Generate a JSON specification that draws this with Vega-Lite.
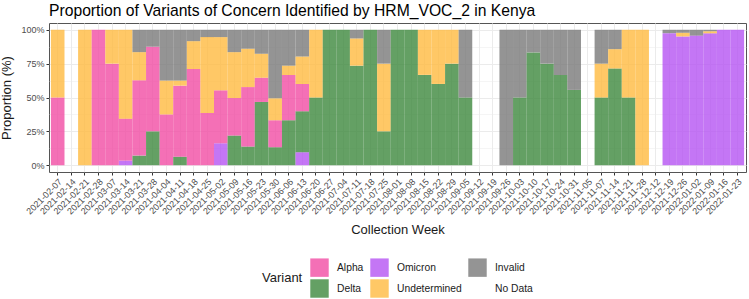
{
  "$schema": "https://vega.github.io/schema/vega-lite/v6.json",
  "width": 697,
  "height": 149,
  "autosize": {"type": "none"},
  "padding": {"left": 49, "top": 23, "right": 3, "bottom": 127},
  "background": "white",
  "config": {
    "font": "Liberation Sans",
    "view": {"stroke": "#555555", "strokeWidth": 1},
    "axis": {
      "labelFont": "Liberation Sans",
      "titleFont": "Liberation Sans",
      "labelColor": "#4D4D4D",
      "labelFontSize": 9,
      "titleFontSize": 13,
      "titleFontWeight": "normal",
      "titleColor": "#1a1a1a",
      "domain": false,
      "tickColor": "#333333",
      "tickSize": 3,
      "gridColor": "#EBEBEB"
    },
    "legend": {
      "labelFont": "Liberation Sans",
      "titleFont": "Liberation Sans",
      "labelFontSize": 10.3,
      "titleFontSize": 13,
      "titleFontWeight": "normal",
      "labelColor": "#1a1a1a",
      "titleColor": "#1a1a1a"
    }
  },
  "title": {
    "text": "Proportion of Variants of Concern Identified by HRM_VOC_2 in Kenya",
    "anchor": "start",
    "frame": "group",
    "fontSize": 15.7,
    "fontWeight": "normal",
    "color": "#000000",
    "font": "Liberation Sans",
    "offset": 3
  },
  "data": {
    "values": [
      {"week": "2021-02-07", "variant": "Alpha", "prop": 0.5},
      {"week": "2021-02-07", "variant": "Undetermined", "prop": 0.5},
      {"week": "2021-02-14", "variant": "No Data", "prop": 1},
      {"week": "2021-02-21", "variant": "Undetermined", "prop": 1},
      {"week": "2021-02-28", "variant": "Alpha", "prop": 1},
      {"week": "2021-03-07", "variant": "Alpha", "prop": 0.75},
      {"week": "2021-03-07", "variant": "Undetermined", "prop": 0.25},
      {"week": "2021-03-14", "variant": "Omicron", "prop": 0.034},
      {"week": "2021-03-14", "variant": "Alpha", "prop": 0.31},
      {"week": "2021-03-14", "variant": "Undetermined", "prop": 0.656},
      {"week": "2021-03-21", "variant": "Delta", "prop": 0.071},
      {"week": "2021-03-21", "variant": "Alpha", "prop": 0.556},
      {"week": "2021-03-21", "variant": "Undetermined", "prop": 0.208},
      {"week": "2021-03-21", "variant": "Invalid", "prop": 0.165},
      {"week": "2021-03-28", "variant": "Delta", "prop": 0.25},
      {"week": "2021-03-28", "variant": "Alpha", "prop": 0.625},
      {"week": "2021-03-28", "variant": "Invalid", "prop": 0.125},
      {"week": "2021-04-04", "variant": "Alpha", "prop": 0.375},
      {"week": "2021-04-04", "variant": "Undetermined", "prop": 0.25},
      {"week": "2021-04-04", "variant": "Invalid", "prop": 0.375},
      {"week": "2021-04-11", "variant": "Delta", "prop": 0.0625},
      {"week": "2021-04-11", "variant": "Alpha", "prop": 0.525},
      {"week": "2021-04-11", "variant": "Undetermined", "prop": 0.0375},
      {"week": "2021-04-11", "variant": "Invalid", "prop": 0.375},
      {"week": "2021-04-18", "variant": "Alpha", "prop": 0.71},
      {"week": "2021-04-18", "variant": "Undetermined", "prop": 0.206},
      {"week": "2021-04-18", "variant": "Invalid", "prop": 0.084},
      {"week": "2021-04-25", "variant": "Alpha", "prop": 0.386},
      {"week": "2021-04-25", "variant": "Undetermined", "prop": 0.56},
      {"week": "2021-04-25", "variant": "Invalid", "prop": 0.054},
      {"week": "2021-05-02", "variant": "Omicron", "prop": 0.162},
      {"week": "2021-05-02", "variant": "Alpha", "prop": 0.391},
      {"week": "2021-05-02", "variant": "Undetermined", "prop": 0.393},
      {"week": "2021-05-02", "variant": "Invalid", "prop": 0.054},
      {"week": "2021-05-09", "variant": "Delta", "prop": 0.219},
      {"week": "2021-05-09", "variant": "Alpha", "prop": 0.277},
      {"week": "2021-05-09", "variant": "Undetermined", "prop": 0.339},
      {"week": "2021-05-09", "variant": "Invalid", "prop": 0.165},
      {"week": "2021-05-16", "variant": "Delta", "prop": 0.138},
      {"week": "2021-05-16", "variant": "Alpha", "prop": 0.439},
      {"week": "2021-05-16", "variant": "Undetermined", "prop": 0.283},
      {"week": "2021-05-16", "variant": "Invalid", "prop": 0.14},
      {"week": "2021-05-23", "variant": "Delta", "prop": 0.467},
      {"week": "2021-05-23", "variant": "Alpha", "prop": 0.179},
      {"week": "2021-05-23", "variant": "Undetermined", "prop": 0.177},
      {"week": "2021-05-23", "variant": "Invalid", "prop": 0.177},
      {"week": "2021-05-30", "variant": "Delta", "prop": 0.133},
      {"week": "2021-05-30", "variant": "Alpha", "prop": 0.199},
      {"week": "2021-05-30", "variant": "Undetermined", "prop": 0.162},
      {"week": "2021-05-30", "variant": "Invalid", "prop": 0.506},
      {"week": "2021-06-06", "variant": "Delta", "prop": 0.332},
      {"week": "2021-06-06", "variant": "Alpha", "prop": 0.334},
      {"week": "2021-06-06", "variant": "Undetermined", "prop": 0.069},
      {"week": "2021-06-06", "variant": "Invalid", "prop": 0.265},
      {"week": "2021-06-13", "variant": "Omicron", "prop": 0.096},
      {"week": "2021-06-13", "variant": "Delta", "prop": 0.302},
      {"week": "2021-06-13", "variant": "Alpha", "prop": 0.202},
      {"week": "2021-06-13", "variant": "Undetermined", "prop": 0.203},
      {"week": "2021-06-13", "variant": "Invalid", "prop": 0.197},
      {"week": "2021-06-20", "variant": "Delta", "prop": 0.5},
      {"week": "2021-06-20", "variant": "Undetermined", "prop": 0.5},
      {"week": "2021-06-27", "variant": "Delta", "prop": 1},
      {"week": "2021-07-04", "variant": "Delta", "prop": 1},
      {"week": "2021-07-11", "variant": "Delta", "prop": 0.735},
      {"week": "2021-07-11", "variant": "Undetermined", "prop": 0.201},
      {"week": "2021-07-11", "variant": "Invalid", "prop": 0.064},
      {"week": "2021-07-18", "variant": "Delta", "prop": 1},
      {"week": "2021-07-25", "variant": "Delta", "prop": 0.25},
      {"week": "2021-07-25", "variant": "Undetermined", "prop": 0.5},
      {"week": "2021-07-25", "variant": "Invalid", "prop": 0.25},
      {"week": "2021-08-01", "variant": "Delta", "prop": 1},
      {"week": "2021-08-08", "variant": "Delta", "prop": 1},
      {"week": "2021-08-15", "variant": "Delta", "prop": 0.667},
      {"week": "2021-08-15", "variant": "Undetermined", "prop": 0.333},
      {"week": "2021-08-22", "variant": "Delta", "prop": 0.6},
      {"week": "2021-08-22", "variant": "Undetermined", "prop": 0.4},
      {"week": "2021-08-29", "variant": "Delta", "prop": 0.75},
      {"week": "2021-08-29", "variant": "Undetermined", "prop": 0.25},
      {"week": "2021-09-05", "variant": "Delta", "prop": 0.5},
      {"week": "2021-09-05", "variant": "Invalid", "prop": 0.5},
      {"week": "2021-09-12", "variant": "No Data", "prop": 1},
      {"week": "2021-09-19", "variant": "No Data", "prop": 1},
      {"week": "2021-09-26", "variant": "Invalid", "prop": 1},
      {"week": "2021-10-03", "variant": "Delta", "prop": 0.5},
      {"week": "2021-10-03", "variant": "Invalid", "prop": 0.5},
      {"week": "2021-10-10", "variant": "Delta", "prop": 0.833},
      {"week": "2021-10-10", "variant": "Invalid", "prop": 0.167},
      {"week": "2021-10-17", "variant": "Delta", "prop": 0.75},
      {"week": "2021-10-17", "variant": "Invalid", "prop": 0.25},
      {"week": "2021-10-24", "variant": "Delta", "prop": 0.667},
      {"week": "2021-10-24", "variant": "Invalid", "prop": 0.333},
      {"week": "2021-10-31", "variant": "Delta", "prop": 0.556},
      {"week": "2021-10-31", "variant": "Invalid", "prop": 0.444},
      {"week": "2021-11-05", "variant": "No Data", "prop": 1},
      {"week": "2021-11-07", "variant": "Delta", "prop": 0.5},
      {"week": "2021-11-07", "variant": "Undetermined", "prop": 0.25},
      {"week": "2021-11-07", "variant": "Invalid", "prop": 0.25},
      {"week": "2021-11-14", "variant": "Delta", "prop": 0.714},
      {"week": "2021-11-14", "variant": "Undetermined", "prop": 0.143},
      {"week": "2021-11-14", "variant": "Invalid", "prop": 0.143},
      {"week": "2021-11-21", "variant": "Delta", "prop": 0.5},
      {"week": "2021-11-21", "variant": "Undetermined", "prop": 0.5},
      {"week": "2021-11-28", "variant": "Undetermined", "prop": 1},
      {"week": "2021-12-12", "variant": "No Data", "prop": 1},
      {"week": "2021-12-19", "variant": "Omicron", "prop": 0.975},
      {"week": "2021-12-19", "variant": "Invalid", "prop": 0.025},
      {"week": "2021-12-26", "variant": "Omicron", "prop": 0.951},
      {"week": "2021-12-26", "variant": "Undetermined", "prop": 0.027},
      {"week": "2021-12-26", "variant": "Invalid", "prop": 0.022},
      {"week": "2022-01-02", "variant": "Omicron", "prop": 0.957},
      {"week": "2022-01-02", "variant": "Invalid", "prop": 0.043},
      {"week": "2022-01-09", "variant": "Omicron", "prop": 0.974},
      {"week": "2022-01-09", "variant": "Undetermined", "prop": 0.015},
      {"week": "2022-01-09", "variant": "Invalid", "prop": 0.011},
      {"week": "2022-01-16", "variant": "Omicron", "prop": 1},
      {"week": "2022-01-23", "variant": "Omicron", "prop": 1}
    ]
  },
  "transform": [
    {"calculate": "indexof(['Omicron','Delta','Alpha','Undetermined','Invalid','No Data'], datum.variant)", "as": "stackOrder"}
  ],
  "mark": {"type": "bar", "opacity": 0.8},
  "encoding": {
    "x": {
      "field": "week",
      "type": "ordinal",
      "sort": "ascending",
      "scale": {"paddingInner": 0, "paddingOuter": 0.14},
      "axis": {
        "title": "Collection Week",
        "labelAngle": -45,
        "labelAlign": "right",
        "labelBaseline": "top",
        "labelPadding": 2,
        "bandPosition": 0.5,
        "grid": true,
        "gridWidth": 1,
        "titlePadding": 8,
        "labelOverlap": false
      }
    },
    "y": {
      "field": "prop",
      "type": "quantitative",
      "stack": "zero",
      "scale": {"domain": [-0.05, 1.05], "nice": false, "zero": false},
      "axis": {
        "title": "Proportion (%)",
        "values": [0, 0.125, 0.25, 0.375, 0.5, 0.625, 0.75, 0.875, 1],
        "labelExpr": "(datum.value * 4) % 1 == 0 ? format(datum.value, '.0%') : ''",
        "tickOpacity": {"condition": {"test": "(datum.value * 4) % 1 != 0", "value": 0}, "value": 1},
        "gridWidth": {"condition": {"test": "(datum.value * 4) % 1 != 0", "value": 0.5}, "value": 1},
        "labelPadding": 2,
        "titlePadding": 7
      }
    },
    "color": {
      "field": "variant",
      "type": "nominal",
      "scale": {
        "domain": ["Alpha", "Delta", "Omicron", "Undetermined", "Invalid", "No Data"],
        "range": ["#F14CA4", "#3D883D", "#B554F3", "#FFBA40", "#797979", "transparent"]
      },
      "legend": {
        "title": "Variant",
        "orient": "none",
        "legendX": 213,
        "legendY": 235,
        "columns": 3,
        "titleOrient": "left",
        "titleAnchor": "middle",
        "titleBaseline": "middle",
        "titlePadding": 7,
        "symbolType": "square",
        "symbolSize": 340,
        "symbolStrokeWidth": 0,
        "symbolOpacity": 0.8,
        "rowPadding": 2,
        "columnPadding": 6,
        "labelOffset": 8
      }
    },
    "order": {"field": "stackOrder", "type": "quantitative", "sort": "ascending"}
  }
}
